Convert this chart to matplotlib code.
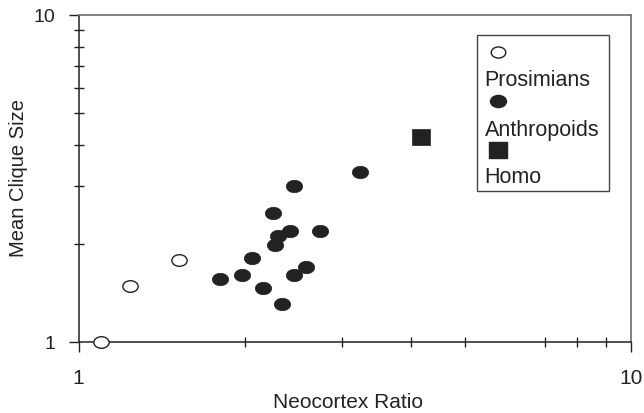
import matplotlib
matplotlib.use("Agg")
import matplotlib.pyplot as plt
from matplotlib.path import Path
from matplotlib.transforms import Affine2D
from matplotlib.markers import MarkerStyle
from matplotlib.patches import Rectangle
from matplotlib.ticker import FixedLocator, NullFormatter

plt.rcParams['font.family'] = ['Liberation Sans', 'DejaVu Sans']

# Data
prosimian_x = [1.10, 1.24, 1.52]
prosimian_y = [1.00, 1.48, 1.78]

anthropoid_x = [1.80, 1.98, 2.06, 2.16, 2.25, 2.30, 2.27, 2.41, 2.46, 2.74, 2.34, 2.45, 2.58, 3.23]
anthropoid_y = [1.56, 1.60, 1.81, 1.46, 2.48, 2.11, 1.98, 2.18, 3.00, 2.18, 1.31, 1.60, 1.69, 3.31]

homo_x = [4.16]
homo_y = [4.24]

legend_labels = ["Prosimians", "Anthropoids", "Homo"]
x_label = "Neocortex Ratio"
y_label = "Mean Clique Size"
x_minor_ticks = [2, 3, 4, 5, 7, 8, 9]
y_minor_ticks = [2, 3, 4, 5, 6, 7, 8, 9]

INK = "#222222"

ellipse = MarkerStyle(Path.unit_circle().transformed(Affine2D().scale(1.0, 0.76)))
rect = MarkerStyle(Path.unit_rectangle().transformed(Affine2D().translate(-0.5, -0.5).scale(1.0, 0.84)))

fig = plt.figure(figsize=(6.44, 4.14), dpi=100)
ax = fig.add_axes([78.5 / 644, 1 - 343 / 414, (631 - 78.5) / 644, (343 - 16) / 414])
ax.set_xscale('log')
ax.set_yscale('log')
ax.set_xlim(1, 10)
ax.set_ylim(1, 10)

ax.plot(prosimian_x, prosimian_y, linestyle='none', marker=ellipse, markersize=11,
        markerfacecolor='white', markeredgecolor=INK, markeredgewidth=1.0, clip_on=False, zorder=3)
ax.plot(anthropoid_x, anthropoid_y, linestyle='none', marker=ellipse, markersize=11.8,
        markerfacecolor=INK, markeredgecolor=INK, markeredgewidth=0.5, zorder=3)
ax.plot(homo_x, homo_y, linestyle='none', marker=rect, markersize=13,
        markerfacecolor=INK, markeredgecolor=INK, markeredgewidth=0.5, zorder=3)

# ticks
ax.xaxis.set_major_locator(FixedLocator([1, 10]))
ax.yaxis.set_major_locator(FixedLocator([1, 10]))
ax.xaxis.set_minor_locator(FixedLocator(x_minor_ticks))
ax.yaxis.set_minor_locator(FixedLocator(y_minor_ticks))
ax.xaxis.set_minor_formatter(NullFormatter())
ax.yaxis.set_minor_formatter(NullFormatter())
ax.set_xticklabels(['1', '10'])
ax.set_yticklabels(['1', '10'])
ax.tick_params(which='major', direction='out', length=7.5, width=1.0, color=INK,
               labelcolor=INK)
ax.tick_params(axis='x', which='major', pad=11, labelsize=15)
ax.tick_params(axis='y', which='major', pad=9, labelsize=14)
ax.tick_params(which='minor', direction='inout', length=7.5, width=1.0, color=INK)

for side in ['left', 'bottom']:
    ax.spines[side].set_color(INK)
    ax.spines[side].set_linewidth(1.1)
for side in ['top', 'right']:
    ax.spines[side].set_color('#777777')
    ax.spines[side].set_linewidth(1.3)

ax.set_xlabel(x_label, fontsize=15, color=INK)
ax.xaxis.set_label_coords(0.488, -0.152)
ax.xaxis.label.set_va('top')
ax.set_ylabel(y_label, fontsize=14.5, color=INK)
ax.yaxis.label.set_va('center')
ax.yaxis.set_label_coords(-0.108, 0.505)

# legend box (manual, markers above labels)
ax.add_patch(Rectangle((0.721, 0.462), 0.239, 0.477, transform=ax.transAxes,
                       facecolor='white', edgecolor='#444444', linewidth=1.0, zorder=4))
leg_marker_y = [0.887, 0.737, 0.587]
leg_text_y = [0.804, 0.651, 0.505]
leg_styles = [dict(marker=ellipse, markersize=10.5, markerfacecolor='white', markeredgecolor=INK, markeredgewidth=1.0),
              dict(marker=ellipse, markersize=11.5, markerfacecolor=INK, markeredgecolor=INK),
              dict(marker=rect, markersize=13, markerfacecolor=INK, markeredgecolor=INK)]
for my, ty, lab, st in zip(leg_marker_y, leg_text_y, legend_labels, leg_styles):
    ax.plot([0.759], [my], linestyle='none', transform=ax.transAxes, zorder=5, clip_on=False, **st)
    ax.text(0.735, ty, lab, transform=ax.transAxes, fontsize=15.5, color=INK,
            ha='left', va='center', zorder=5)

fig.savefig('out.png', dpi=100)
